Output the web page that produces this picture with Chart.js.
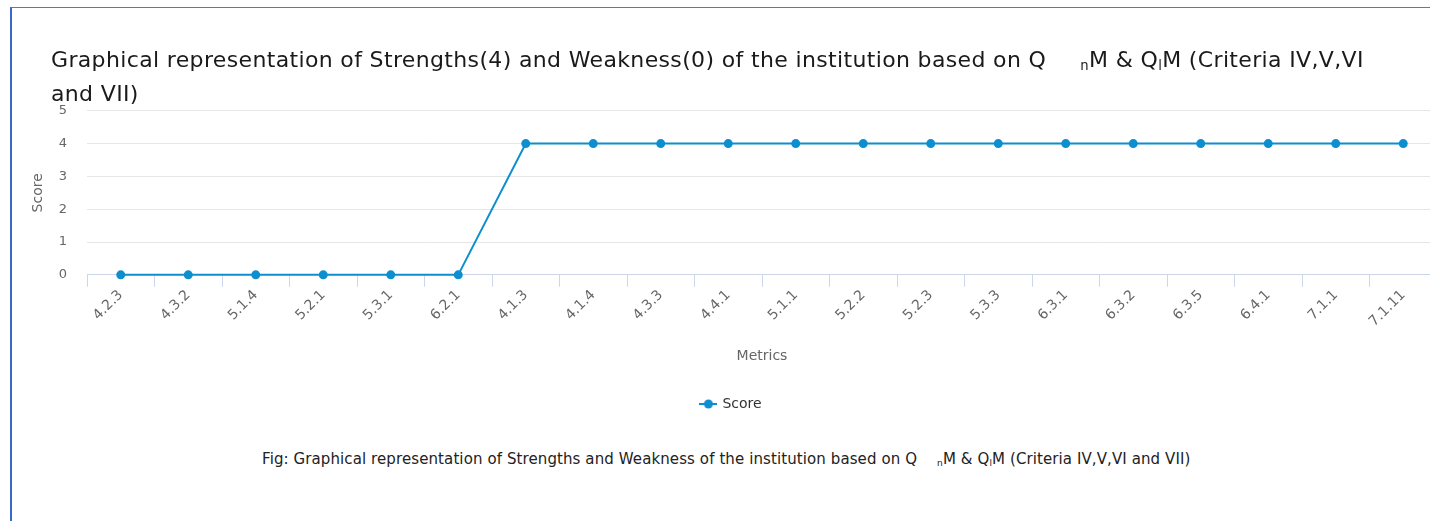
<!DOCTYPE html>
<html>
<head>
<meta charset="utf-8">
<script src="https://cdn.jsdelivr.net/npm/chart.js@4.4.1/dist/chart.umd.min.js"></script>
<style>
  html, body { margin: 0; padding: 0; background: #fff; }
  body { width: 1430px; height: 521px; overflow: hidden; position: relative; font-family: "DejaVu Sans", sans-serif; }
  .frame { position: absolute; left: 10px; top: 7px; width: 1500px; height: 600px;
    border-top: 1px solid #5278c8; border-left: 2px solid #3a69cc; }
  .title { position: absolute; left: 51px; top: 43px; font-size: 22px; line-height: 33.5px; letter-spacing: 0.35px; color: #1a1a1a; white-space: nowrap; }
  .gap { display: inline-block; width: 34px; }
  sub { font-size: 0.6em; vertical-align: -0.25em; line-height: 0; }
  .caption { position: absolute; left: 262px; top: 450px; font-size: 15px; letter-spacing: 0.1px; color: #222; white-space: nowrap; }
  .wrap { position: absolute; left: 10px; top: 83px; width: 1440px; height: 346px; }
</style>
</head>
<body>
<div class="frame"></div>
<div class="wrap"><canvas id="scoreChart"></canvas></div>
<div class="title">Graphical representation of Strengths(4) and Weakness(0) of the institution based on Q<span class="gap"></span><sub>n</sub>M &amp; Q<sub>l</sub>M (Criteria IV,V,VI<br>and VII)</div>
<div class="caption">Fig: Graphical representation of Strengths and Weakness of the institution based on Q<span class="gap" style="width:20px"></span><sub>n</sub>M &amp; Q<sub>l</sub>M (Criteria IV,V,VI and VII)</div>
<script>
// metrics on the x axis
var metrics = ['4.2.3', '4.3.2', '5.1.4', '5.2.1', '5.3.1', '6.2.1', '4.1.3', '4.1.4', '4.3.3', '4.4.1',
  '5.1.1', '5.2.2', '5.2.3', '5.3.3', '6.3.1', '6.3.2', '6.3.5', '6.4.1', '7.1.1', '7.1.11']
// score per metric
var scores = [0, 0, 0, 0, 0, 0, 4, 4, 4, 4, 4, 4, 4, 4, 4, 4, 4, 4, 4, 4]
var yTicks = [0, 1, 2, 3, 4, 5]

var lineColor = '#0d8ecf'

// legend symbol: short line with a dot
function legendSymbol() {
  var c = document.createElement('canvas')
  c.width = 18
  c.height = 10
  var g = c.getContext('2d')
  g.strokeStyle = lineColor
  g.lineWidth = 2
  g.beginPath()
  g.moveTo(0, 5)
  g.lineTo(18, 5)
  g.stroke()
  g.fillStyle = lineColor
  g.beginPath()
  g.arc(9, 5, 4.5, 0, Math.PI * 2)
  g.fill()
  return c
}

var ctx = document.getElementById('scoreChart').getContext('2d')
var myChart = new Chart(ctx, {
  type: 'line',
  data: {
    labels: metrics,
    datasets: [
      {
        label: 'Score',
        data: scores,
        borderColor: lineColor,
        backgroundColor: lineColor,
        borderWidth: 2,
        pointRadius: 4.5,
        pointBackgroundColor: lineColor,
        pointBorderWidth: 0,
        tension: 0,
        fill: false,
        clip: false,
      },
    ],
  },
  options: {
    responsive: true,
    maintainAspectRatio: false,
    animation: false,
    events: [],
    layout: { padding: { left: 16, right: 13, top: 8, bottom: 8 } },
    plugins: {
      tooltip: { enabled: false },
      legend: {
        position: 'bottom',
        labels: {
          usePointStyle: true,
          color: '#333',
          font: { family: 'DejaVu Sans', size: 14 },
          padding: 10,
          generateLabels: function (chart) {
            var items = Chart.defaults.plugins.legend.labels.generateLabels(chart)
            items.forEach(function (it) { it.pointStyle = legendSymbol() })
            return items
          },
        },
      },
    },
    scales: {
      x: {
        offset: true,
        grid: { offset: true, drawOnChartArea: false, tickLength: 12, color: '#ccd6eb' },
        border: { color: '#ccd6eb' },
        ticks: {
          minRotation: 45,
          maxRotation: 45,
          color: '#666',
          padding: 0,
          font: { family: 'DejaVu Sans', size: 14 },
        },
        title: {
          display: true,
          text: 'Metrics',
          color: '#666',
          font: { family: 'DejaVu Sans', size: 14 },
          padding: { top: 18, bottom: 22 },
        },
      },
      y: {
        min: 0,
        max: 5,
        afterBuildTicks: function (axis) {
          axis.ticks = yTicks.map(function (v) { return { value: v } })
        },
        afterFit: function (axis) {
          axis.width = 61
        },
        grid: { color: '#e6e6e6', drawTicks: false },
        border: { display: false },
        ticks: {
          color: '#666',
          padding: 20,
          font: { family: 'DejaVu Sans', size: 13 },
        },
        title: {
          display: true,
          text: 'Score',
          color: '#666',
          font: { family: 'DejaVu Sans', size: 14 },
          padding: { top: 4, bottom: 4 },
        },
      },
    },
  },
})
</script>
</body>
</html>
